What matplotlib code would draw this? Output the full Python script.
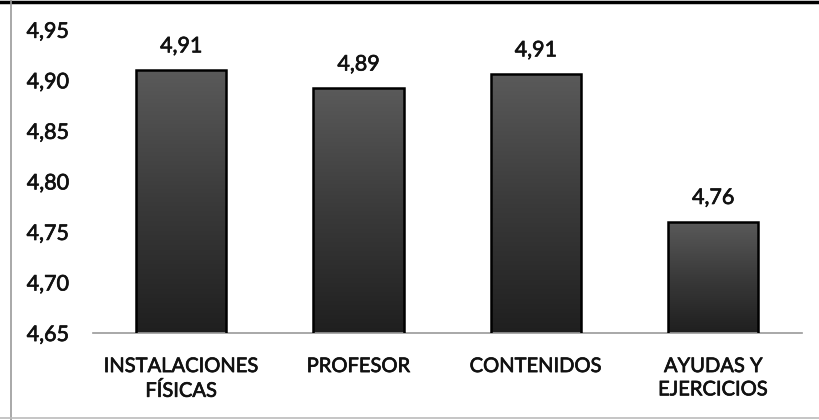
import numpy as np
import matplotlib.pyplot as plt
import matplotlib.patheffects as pe
from matplotlib.ticker import FuncFormatter
from matplotlib.lines import Line2D
from matplotlib.colors import LinearSegmentedColormap

# data
categories = ["INSTALACIONES\nFÍSICAS", "PROFESOR", "CONTENIDOS", "AYUDAS Y\nEJERCICIOS"]
values = [4.91, 4.892, 4.906, 4.76]

plt.rcParams['font.family'] = ['Lato', 'DejaVu Sans']

# scanned text looks a bit heavier than regular weight
thick = [pe.withStroke(linewidth=0.5, foreground='#111111')]

fig = plt.figure(figsize=(8.19, 4.2), dpi=100)
ax = fig.add_axes([0.113, 0.207, 0.866, 0.722])

x = np.arange(len(categories))
bars = ax.bar(x, values, width=0.51, color='none', edgecolor='black', linewidth=1.8, zorder=3)

ax.set_ylim(4.65, 4.95)
ax.set_xlim(-0.5, len(categories) - 0.5)

# dark vertical gradient inside each bar (lighter at the top)
barcmap = LinearSegmentedColormap.from_list('bar', ['#5a5a5a', '#3a3a3a', '#1f1f1f'])
grad = np.linspace(0, 1, 256).reshape(-1, 1)
for b in bars:
    x0, w, h = b.get_x(), b.get_width(), b.get_height()
    im = ax.imshow(grad, cmap=barcmap, aspect='auto',
                   extent=[x0, x0 + w, 4.65, h], origin='upper', zorder=2)
    im.set_clip_path(b)
    ax.annotate(f"{h:.2f}".replace('.', ','), (x0 + w / 2, h), xytext=(0, 10),
                textcoords='offset points', ha='center', va='bottom',
                fontsize=15.5, color='#111111', path_effects=thick)

ax.set_xticks(x)
ax.set_xticklabels(categories, fontsize=14.5, color='#111111', linespacing=1.45)
ax.set_yticks(np.arange(4.65, 4.951, 0.05))
ax.yaxis.set_major_formatter(FuncFormatter(lambda v, p: f"{v:.2f}".replace('.', ',')))
ax.tick_params(axis='y', length=0, pad=17, labelsize=15.5, labelcolor='#111111')
ax.tick_params(axis='x', length=0, pad=18)
for t in ax.get_xticklabels() + ax.get_yticklabels():
    t.set_path_effects(thick)

for s in ['top', 'right', 'left']:
    ax.spines[s].set_visible(False)
ax.spines['bottom'].set_color('#999999')
ax.spines['bottom'].set_linewidth(1.2)

# scanned frame around the chart
fig.add_artist(Line2D([0, 1], [0.995, 0.995], color='black', linewidth=2.5, transform=fig.transFigure))
fig.add_artist(Line2D([0.013, 0.013], [0, 1], color='#999999', linewidth=1.2, transform=fig.transFigure))
fig.add_artist(Line2D([0, 1], [0.004, 0.004], color='#bbbbbb', linewidth=1.2, transform=fig.transFigure))

fig.savefig('out.png', dpi=100)
